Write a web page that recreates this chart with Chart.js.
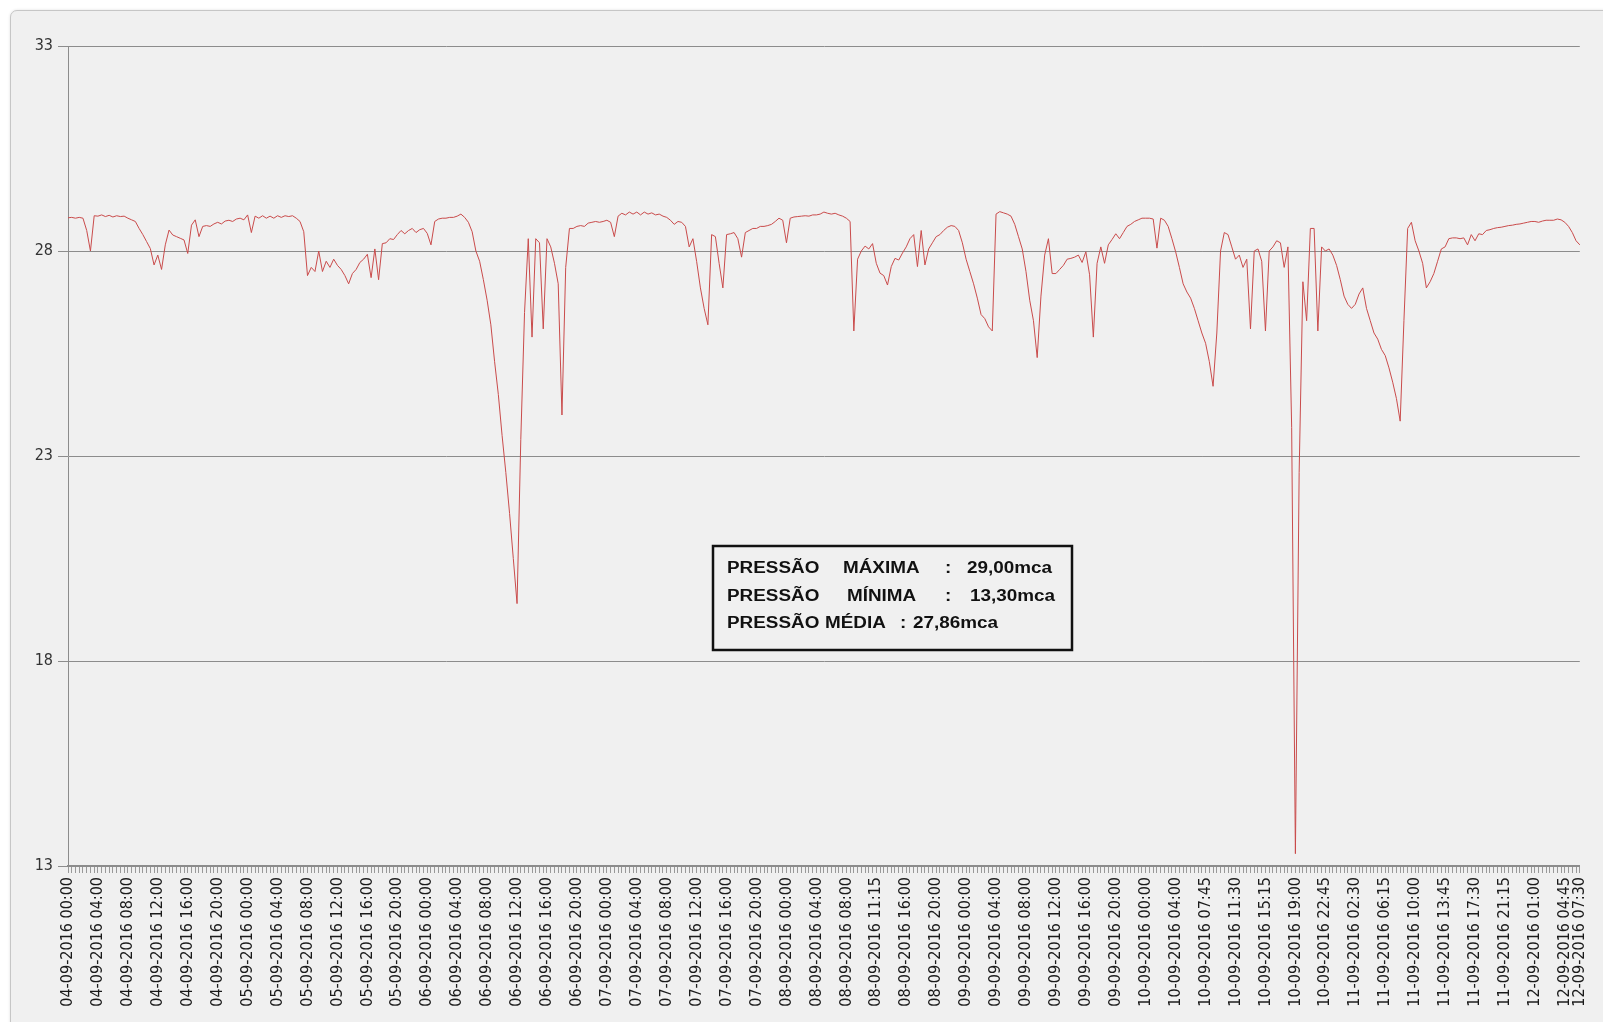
<!DOCTYPE html>
<html>
<head>
<meta charset="utf-8">
<script src="https://cdn.jsdelivr.net/npm/chart.js@4.4.1/dist/chart.umd.min.js"></script>
<style>
  html, body { margin: 0; padding: 0; background: #ffffff; overflow: hidden; width: 1603px; height: 1022px; }
  #frame {
    position: fixed; left: 10px; top: 10px; right: -60px; bottom: -60px;
    background: #f0f0f0; border: 1px solid #c6c6c6; border-radius: 7px;
    box-shadow: 0 0 3px rgba(0, 0, 0, 0.12);
  }
  #wrap { position: absolute; left: 0; top: 0; width: 1603px; height: 1022px; }
</style>
</head>
<body>
<div id="frame"></div>
<div id="wrap"><canvas id="pressao" width="1603" height="1022"></canvas></div>
<script>
  // tick labels shown under the axis (one every tickStep readings, plus the last reading)
  const tickLabels = [
    "04-09-2016 00:00", "04-09-2016 04:00", "04-09-2016 08:00", "04-09-2016 12:00", "04-09-2016 16:00", "04-09-2016 20:00",
    "05-09-2016 00:00", "05-09-2016 04:00", "05-09-2016 08:00", "05-09-2016 12:00", "05-09-2016 16:00", "05-09-2016 20:00",
    "06-09-2016 00:00", "06-09-2016 04:00", "06-09-2016 08:00", "06-09-2016 12:00", "06-09-2016 16:00", "06-09-2016 20:00",
    "07-09-2016 00:00", "07-09-2016 04:00", "07-09-2016 08:00", "07-09-2016 12:00", "07-09-2016 16:00", "07-09-2016 20:00",
    "08-09-2016 00:00", "08-09-2016 04:00", "08-09-2016 08:00", "08-09-2016 11:15", "08-09-2016 16:00", "08-09-2016 20:00",
    "09-09-2016 00:00", "09-09-2016 04:00", "09-09-2016 08:00", "09-09-2016 12:00", "09-09-2016 16:00", "09-09-2016 20:00",
    "10-09-2016 00:00", "10-09-2016 04:00", "10-09-2016 07:45", "10-09-2016 11:30", "10-09-2016 15:15", "10-09-2016 19:00",
    "10-09-2016 22:45", "11-09-2016 02:30", "11-09-2016 06:15", "11-09-2016 10:00", "11-09-2016 13:45", "11-09-2016 17:30",
    "11-09-2016 21:15", "12-09-2016 01:00", "12-09-2016 04:45", "12-09-2016 07:30"
  ];
  const tickStep = 8;

  // pressure readings (mca)
  const pressure = [
    28.81, 28.82, 28.8, 28.82, 28.8, 28.5, 28.0, 28.86, 28.85, 28.88,
    28.84, 28.87, 28.83, 28.86, 28.84, 28.85, 28.8, 28.76, 28.72, 28.55,
    28.4, 28.23, 28.06, 27.66, 27.9, 27.55, 28.15, 28.51, 28.39, 28.35,
    28.31, 28.27, 27.94, 28.63, 28.76, 28.35, 28.6, 28.62, 28.6, 28.66,
    28.7, 28.66, 28.73, 28.75, 28.72, 28.78, 28.8, 28.76, 28.88, 28.45,
    28.85, 28.8, 28.86, 28.8, 28.85, 28.8, 28.86, 28.82, 28.86, 28.84,
    28.86, 28.8, 28.72, 28.47, 27.4, 27.6, 27.5, 28.0, 27.5, 27.75,
    27.6, 27.8, 27.65, 27.55, 27.4, 27.2, 27.45, 27.55, 27.72, 27.8,
    27.92, 27.35, 28.05, 27.3, 28.18, 28.2, 28.3, 28.28, 28.4, 28.5,
    28.42, 28.5, 28.55, 28.45, 28.52, 28.55, 28.43, 28.15, 28.72, 28.78,
    28.8, 28.8, 28.82, 28.82, 28.85, 28.9, 28.82, 28.7, 28.47, 28.0,
    27.75, 27.3, 26.8, 26.2, 25.3, 24.5, 23.5, 22.6, 21.6, 20.5,
    19.4, 23.4, 26.5, 28.3, 25.9, 28.3, 28.2, 26.1, 28.3, 28.1,
    27.7, 27.2, 24.0, 27.6, 28.55, 28.55, 28.6, 28.62, 28.6, 28.68,
    28.7, 28.72, 28.7, 28.72, 28.75, 28.7, 28.35, 28.85, 28.92, 28.88,
    28.95, 28.9, 28.95, 28.88, 28.95, 28.9, 28.93, 28.88, 28.9, 28.85,
    28.82, 28.75, 28.65, 28.72, 28.7, 28.6, 28.1, 28.3, 27.74, 27.1,
    26.6, 26.2, 28.4, 28.35, 27.7, 27.1, 28.4, 28.42, 28.45, 28.3,
    27.85, 28.45, 28.5, 28.55, 28.55, 28.6, 28.6, 28.62, 28.65, 28.72,
    28.8, 28.75, 28.2, 28.8, 28.83, 28.84, 28.85, 28.86, 28.85, 28.88,
    28.88, 28.9, 28.95, 28.92, 28.9, 28.92, 28.88, 28.85, 28.8, 28.72,
    26.05, 27.8, 28.0, 28.12, 28.05, 28.18, 27.7, 27.46, 27.4, 27.17,
    27.62, 27.82, 27.78, 27.95, 28.1, 28.3, 28.4, 27.62, 28.5, 27.66,
    28.05, 28.2, 28.35, 28.4, 28.5, 28.58, 28.62, 28.6, 28.5, 28.2,
    27.8, 27.5, 27.2, 26.85, 26.45, 26.35, 26.15, 26.05, 28.9, 28.96,
    28.93, 28.9, 28.85, 28.65, 28.35, 28.05, 27.5, 26.8, 26.3, 25.4,
    26.9, 27.9, 28.3, 27.45, 27.45, 27.55, 27.65, 27.8, 27.82, 27.85,
    27.9, 27.72, 27.98, 27.42, 25.9, 27.7, 28.1, 27.7, 28.15, 28.28,
    28.42, 28.3, 28.45, 28.6, 28.65, 28.72, 28.76, 28.8, 28.8, 28.8,
    28.78, 28.07, 28.8, 28.75, 28.6, 28.3, 27.98, 27.6, 27.2, 27.0,
    26.85, 26.6, 26.3, 26.0, 25.75, 25.3, 24.7, 26.0, 28.0, 28.45,
    28.4, 28.1, 27.8, 27.9, 27.6, 27.8, 26.1, 28.0, 28.05, 27.75,
    26.05, 28.0, 28.1, 28.25, 28.2, 27.6, 28.1, 23.7, 13.3, 22.6,
    27.25, 26.3, 28.55, 28.55, 26.05, 28.1, 28.0, 28.05, 27.9, 27.65,
    27.3, 26.9, 26.7, 26.6, 26.7, 26.95, 27.1, 26.6, 26.3, 26.0,
    25.85, 25.6, 25.45, 25.15, 24.8, 24.4, 23.85, 26.3, 28.55, 28.7,
    28.25, 28.0, 27.7, 27.1, 27.25, 27.45, 27.75, 28.05, 28.1, 28.3,
    28.32, 28.32, 28.3, 28.32, 28.15, 28.4, 28.25, 28.42, 28.4, 28.5,
    28.52, 28.55, 28.57, 28.58, 28.6, 28.62, 28.63, 28.65, 28.66, 28.68,
    28.7, 28.72, 28.72, 28.7, 28.73, 28.75, 28.75, 28.75, 28.78, 28.76,
    28.7, 28.6, 28.45, 28.25, 28.15
  ];

  const yMin = 13;
  const yMax = 33;
  const yStep = 5;

  const statsLines = [
    ["PRESSÃO", "MÁXIMA", ":", "29,00mca"],
    ["PRESSÃO", "MÍNIMA", ":", "13,30mca"],
    ["PRESSÃO", "MÉDIA", ":", "27,86mca"]
  ];

  const labels = pressure.map((_, i) => {
    if (i === pressure.length - 1) return tickLabels[tickLabels.length - 1];
    return i % tickStep === 0 ? tickLabels[i / tickStep] : "";
  });

  const axisFont = { family: "'DejaVu Sans Condensed', 'DejaVu Sans', sans-serif", size: 16 };

  // text box with the min / max / mean summary
  const statsBox = {
    id: "statsBox",
    afterDraw(chart) {
      const c = chart.ctx;
      c.save();
      c.fillStyle = "#f0f0f0";
      c.fillRect(713, 546, 359, 104);
      c.lineWidth = 2.5;
      c.strokeStyle = "#111111";
      c.strokeRect(713, 546, 359, 104);
      c.font = "bold 16px 'Liberation Sans', Arial, sans-serif";
      c.fillStyle = "#111111";
      const cols = [[727, 843, 945, 967], [727, 847, 945, 970], [727, 825, 900, 913]];
      const rows = [573, 601, 628];
      statsLines.forEach((line, r) => {
        line.forEach((word, k) => {
          c.save();
          c.translate(cols[r][k], rows[r]);
          c.scale(1.18, 1);
          c.fillText(word, 0, 0);
          c.restore();
        });
      });
      c.restore();
    }
  };

  new Chart(document.getElementById("pressao"), {
    type: "line",
    data: {
      labels: labels,
      datasets: [{
        data: pressure,
        borderColor: "#c94b4b",
        borderWidth: 1,
        pointRadius: 0,
        tension: 0
      }]
    },
    plugins: [statsBox],
    options: {
      responsive: false,
      animation: false,
      layout: { padding: { left: 0, top: 46, right: 16, bottom: 0 } },
      plugins: {
        legend: { display: false },
        tooltip: { enabled: false }
      },
      scales: {
        x: {
          grid: { drawOnChartArea: false, tickLength: 7, color: "#999999", lineWidth: 1 },
          border: { color: "#8c8c8c", width: 2 },
          ticks: { autoSkip: false, minRotation: 90, maxRotation: 90, padding: 4, color: "#1a1a1a", font: axisFont },
          afterFit: (s) => { s.height = 156; }
        },
        y: {
          min: yMin,
          max: yMax,
          ticks: { stepSize: yStep, color: "#333333", font: axisFont, padding: 5 },
          grid: { color: "#8c8c8c", tickLength: 10, lineWidth: 1 },
          border: { color: "#8c8c8c" },
          afterFit: (s) => { s.width = 68; }
        }
      }
    }
  });
</script>
</body>
</html>
